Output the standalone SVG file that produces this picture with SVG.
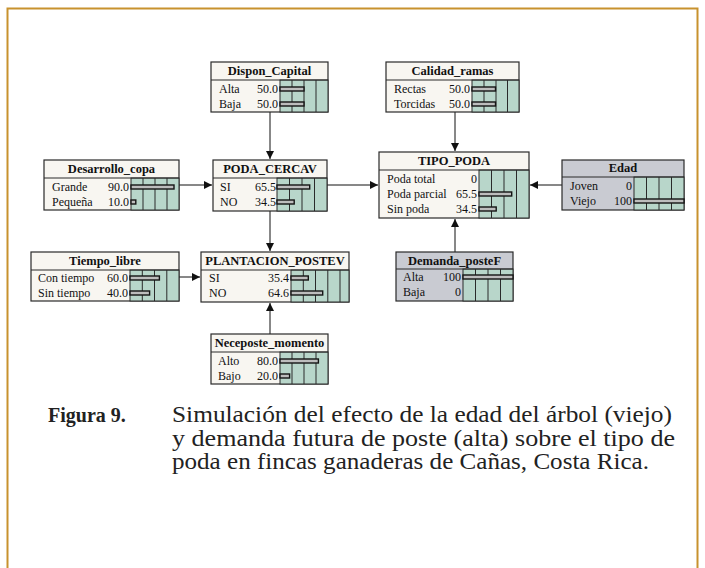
<svg xmlns="http://www.w3.org/2000/svg" width="705" height="568" viewBox="0 0 705 568">
<defs>
<marker id="arr" markerUnits="userSpaceOnUse" markerWidth="9" markerHeight="9" refX="8" refY="4" orient="auto">
<path d="M0,0 L8,4 L0,8 z" fill="#111"/>
</marker>
<style>
.box{fill:#f8f6f1;stroke:#2a2a2a;stroke-width:1.2}
.gbox{fill:#c9cbd2;stroke:#2a2a2a;stroke-width:1.2}
.sep{stroke:#2a2a2a;stroke-width:1}
.grn{fill:#b8d6ca;stroke:#2a2a2a;stroke-width:1}
.col{stroke:#2a2a2a;stroke-width:1}
.bar{fill:#bdbdbd;stroke:#151515;stroke-width:1.4}
.ttl{font-weight:bold;font-size:12.5px;fill:#111;text-anchor:middle}
.lbl{font-size:12px;fill:#111}
.val{font-size:12px;fill:#111;text-anchor:end}
.con{stroke:#111;stroke-width:1;fill:none;marker-end:url(#arr)}
.cap{font-size:23px;fill:#222}
.capb{font-size:20px;font-weight:bold;fill:#222}
</style>
</defs>
<rect x="0" y="0" width="705" height="568" fill="#fff"/>
<path d="M7.5,570 L7.5,8.5 L697.5,8.5 L697.5,570" fill="none" stroke="#c8922e" stroke-width="2"/>

<g id="connectors">
<line class="con" x1="270" y1="112" x2="270" y2="159"/>
<line class="con" x1="179" y1="185" x2="212" y2="185"/>
<line class="con" x1="327" y1="185" x2="378" y2="185"/>
<line class="con" x1="270" y1="211" x2="270" y2="251"/>
<line class="con" x1="455" y1="112" x2="455" y2="151"/>
<line class="con" x1="562" y1="185" x2="530" y2="185"/>
<line class="con" x1="455" y1="252" x2="455" y2="219"/>
<line class="con" x1="179" y1="277" x2="200" y2="277"/>
<line class="con" x1="270" y1="334" x2="270" y2="303"/>
</g>

<g font-family="'Liberation Serif', 'Times New Roman', Tinos, Times, serif">
<g id="Dispon_Capital">
<rect class="box" x="211" y="62" width="117" height="50"/>
<rect class="grn" x="280" y="80" width="48" height="32"/>
<line class="col" x1="292" y1="80" x2="292" y2="112"/><line class="col" x1="304" y1="80" x2="304" y2="112"/><line class="col" x1="316" y1="80" x2="316" y2="112"/>
<line class="sep" x1="211" y1="80" x2="328" y2="80"/>
<text class="ttl" x="269.5" y="75">Dispon_Capital</text>
<text class="lbl" x="219" y="93">Alta</text><text class="val" x="278" y="93">50.0</text>
<text class="lbl" x="219" y="108">Baja</text><text class="val" x="278" y="108">50.0</text>
<rect class="bar" x="280" y="87" width="24" height="4"/>
<rect class="bar" x="280" y="102" width="24" height="4"/>
</g>

<g id="Calidad_ramas">
<rect class="box" x="386" y="62" width="133" height="50"/>
<rect class="grn" x="472" y="80" width="47" height="32"/>
<line class="col" x1="484" y1="80" x2="484" y2="112"/><line class="col" x1="496" y1="80" x2="496" y2="112"/><line class="col" x1="507.5" y1="80" x2="507.5" y2="112"/>
<line class="sep" x1="386" y1="80" x2="519" y2="80"/>
<text class="ttl" x="452.5" y="75">Calidad_ramas</text>
<text class="lbl" x="394" y="93">Rectas</text><text class="val" x="470" y="93">50.0</text>
<text class="lbl" x="394" y="108">Torcidas</text><text class="val" x="470" y="108">50.0</text>
<rect class="bar" x="472" y="87" width="23.5" height="4"/>
<rect class="bar" x="472" y="102" width="23.5" height="4"/>
</g>

<g id="Desarrollo_copa">
<rect class="box" x="44" y="160" width="135" height="50"/>
<rect class="grn" x="131" y="178" width="48" height="32"/>
<line class="col" x1="143" y1="178" x2="143" y2="210"/><line class="col" x1="155" y1="178" x2="155" y2="210"/><line class="col" x1="167" y1="178" x2="167" y2="210"/>
<line class="sep" x1="44" y1="178" x2="179" y2="178"/>
<text class="ttl" x="111.5" y="173">Desarrollo_copa</text>
<text class="lbl" x="52" y="191">Grande</text><text class="val" x="129" y="191">90.0</text>
<text class="lbl" x="52" y="206">Pequeña</text><text class="val" x="129" y="206">10.0</text>
<rect class="bar" x="131" y="185" width="43" height="4"/>
<rect class="bar" x="131" y="200" width="4.8" height="4"/>
</g>

<g id="PODA_CERCAV">
<rect class="box" x="213" y="160" width="114" height="51"/>
<rect class="grn" x="277" y="178" width="50" height="33"/>
<line class="col" x1="289.5" y1="178" x2="289.5" y2="211"/><line class="col" x1="302" y1="178" x2="302" y2="211"/><line class="col" x1="314.5" y1="178" x2="314.5" y2="211"/>
<line class="sep" x1="213" y1="178" x2="327" y2="178"/>
<text class="ttl" x="270" y="173">PODA_CERCAV</text>
<text class="lbl" x="220" y="191">SI</text><text class="val" x="276" y="191">65.5</text>
<text class="lbl" x="220" y="206">NO</text><text class="val" x="276" y="206">34.5</text>
<rect class="bar" x="277" y="185" width="32.7" height="4"/>
<rect class="bar" x="277" y="200" width="17.2" height="4"/>
</g>

<g id="TIPO_PODA">
<rect class="box" x="379" y="152" width="150" height="66"/>
<rect class="grn" x="479" y="170" width="50" height="48"/>
<line class="col" x1="491.5" y1="170" x2="491.5" y2="218"/><line class="col" x1="504" y1="170" x2="504" y2="218"/><line class="col" x1="516.5" y1="170" x2="516.5" y2="218"/>
<line class="sep" x1="379" y1="170" x2="529" y2="170"/>
<text class="ttl" x="454" y="165">TIPO_PODA</text>
<text class="lbl" x="387" y="183">Poda total</text><text class="val" x="477" y="183">0</text>
<text class="lbl" x="387" y="198">Poda parcial</text><text class="val" x="477" y="198">65.5</text>
<text class="lbl" x="387" y="213">Sin poda</text><text class="val" x="477" y="213">34.5</text>
<rect class="bar" x="479" y="192" width="32.7" height="4"/>
<rect class="bar" x="479" y="207" width="17.2" height="4"/>
</g>

<g id="Edad">
<rect class="gbox" x="562" y="160" width="122" height="50"/>
<rect class="grn" x="634" y="177" width="50" height="33"/>
<line class="col" x1="646.5" y1="177" x2="646.5" y2="210"/><line class="col" x1="659" y1="177" x2="659" y2="210"/><line class="col" x1="671.5" y1="177" x2="671.5" y2="210"/>
<line class="sep" x1="562" y1="177" x2="684" y2="177"/>
<text class="ttl" x="623" y="172">Edad</text>
<text class="lbl" x="570" y="190">Joven</text><text class="val" x="632" y="190">0</text>
<text class="lbl" x="570" y="205">Viejo</text><text class="val" x="632" y="205">100</text>
<rect class="bar" x="634" y="199" width="50" height="4"/>
</g>

<g id="Tiempo_libre">
<rect class="box" x="31" y="252" width="148" height="49"/>
<rect class="grn" x="130" y="270" width="49" height="31"/>
<line class="col" x1="142.3" y1="270" x2="142.3" y2="301"/><line class="col" x1="154.5" y1="270" x2="154.5" y2="301"/><line class="col" x1="166.8" y1="270" x2="166.8" y2="301"/>
<line class="sep" x1="31" y1="270" x2="179" y2="270"/>
<text class="ttl" x="105" y="265">Tiempo_libre</text>
<text class="lbl" x="38" y="282">Con tiempo</text><text class="val" x="128" y="282">60.0</text>
<text class="lbl" x="38" y="297">Sin tiempo</text><text class="val" x="128" y="297">40.0</text>
<rect class="bar" x="130" y="276" width="29.4" height="4"/>
<rect class="bar" x="130" y="291" width="19.6" height="4"/>
</g>

<g id="PLANTACION_POSTEV">
<rect class="box" x="201" y="252" width="148" height="50"/>
<rect class="grn" x="291" y="270" width="58" height="32"/>
<line class="col" x1="303.3" y1="270" x2="303.3" y2="302"/><line class="col" x1="315.5" y1="270" x2="315.5" y2="302"/><line class="col" x1="327.8" y1="270" x2="327.8" y2="302"/><line class="col" x1="340" y1="270" x2="340" y2="302"/>
<line class="sep" x1="201" y1="270" x2="349" y2="270"/>
<text class="ttl" x="275" y="265">PLANTACION_POSTEV</text>
<text class="lbl" x="209" y="282">SI</text><text class="val" x="289" y="282">35.4</text>
<text class="lbl" x="209" y="297">NO</text><text class="val" x="289" y="297">64.6</text>
<rect class="bar" x="291" y="276" width="17.3" height="4"/>
<rect class="bar" x="291" y="291" width="31.7" height="4"/>
</g>

<g id="Demanda_posteF">
<rect class="gbox" x="396" y="252" width="117" height="49"/>
<rect class="grn" x="463" y="269" width="50" height="32"/>
<line class="col" x1="475.5" y1="269" x2="475.5" y2="301"/><line class="col" x1="488" y1="269" x2="488" y2="301"/><line class="col" x1="500.5" y1="269" x2="500.5" y2="301"/>
<line class="sep" x1="396" y1="269" x2="513" y2="269"/>
<text class="ttl" x="454.5" y="265">Demanda_posteF</text>
<text class="lbl" x="403" y="281">Alta</text><text class="val" x="461" y="281">100</text>
<text class="lbl" x="403" y="296">Baja</text><text class="val" x="461" y="296">0</text>
<rect class="bar" x="463" y="275" width="50" height="4"/>
</g>

<g id="Neceposte_momento">
<rect class="box" x="211" y="334" width="117" height="50"/>
<rect class="grn" x="280" y="352" width="48" height="32"/>
<line class="col" x1="292" y1="352" x2="292" y2="384"/><line class="col" x1="304" y1="352" x2="304" y2="384"/><line class="col" x1="316" y1="352" x2="316" y2="384"/>
<line class="sep" x1="211" y1="352" x2="328" y2="352"/>
<text class="ttl" x="269.5" y="347">Neceposte_momento</text>
<text class="lbl" x="218" y="365">Alto</text><text class="val" x="278" y="365">80.0</text>
<text class="lbl" x="218" y="380">Bajo</text><text class="val" x="278" y="380">20.0</text>
<rect class="bar" x="280" y="359" width="38.4" height="4"/>
<rect class="bar" x="280" y="374" width="9.6" height="4"/>
</g>

<g id="caption">
<text class="capb" x="48" y="422">Figura 9.</text>
<text class="cap" x="172" y="422" textLength="500" lengthAdjust="spacingAndGlyphs">Simulación del efecto de la edad del árbol (viejo)</text>
<text class="cap" x="172" y="445.5" textLength="503" lengthAdjust="spacingAndGlyphs">y demanda futura de poste (alta) sobre el tipo de</text>
<text class="cap" x="172" y="469" textLength="477" lengthAdjust="spacingAndGlyphs">poda en fincas ganaderas de Cañas, Costa Rica.</text>
</g>
</g>
</svg>
